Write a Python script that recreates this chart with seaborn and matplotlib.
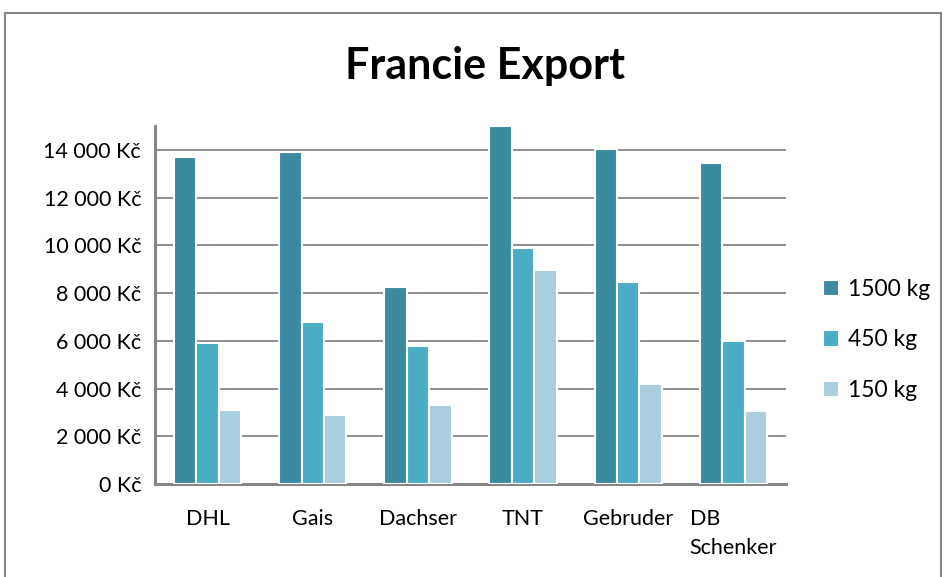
import pandas as pd
import matplotlib
matplotlib.use("Agg")
import matplotlib.pyplot as plt
import seaborn as sns
from matplotlib.patches import Rectangle

# data
carriers = ["DHL", "Gais", "Dachser", "TNT", "Gebruder", "DB\nSchenker"]
weights = ["1500 kg", "450 kg", "150 kg"]
price_1500 = [13700, 13900, 8250, 15000, 14050, 13450]
price_450 = [5900, 6800, 5800, 9900, 8450, 6000]
price_150 = [3100, 2900, 3300, 8950, 4200, 3050]
y_ticks = [0, 2000, 4000, 6000, 8000, 10000, 12000, 14000]
y_tick_labels = ["0 Kč", "2 000 Kč", "4 000 Kč", "6 000 Kč", "8 000 Kč",
                 "10 000 Kč", "12 000 Kč", "14 000 Kč"]
colors = ["#3B8BA0", "#4BACC6", "#AACEDD"]

df = pd.DataFrame({
    "carrier": carriers * 3,
    "weight": [weights[0]] * 6 + [weights[1]] * 6 + [weights[2]] * 6,
    "price": price_1500 + price_450 + price_150,
})

sns.set_style("white")
plt.rcParams["font.family"] = ["Lato", "DejaVu Sans"]
plt.rcParams["text.color"] = "black"
plt.rcParams["xtick.color"] = "black"
plt.rcParams["ytick.color"] = "black"

fig = plt.figure(figsize=(9.47, 5.77), dpi=100)
ax = fig.add_axes([155 / 947, 1 - 484 / 577, 631 / 947, 358 / 577])

sns.barplot(
    data=df, x="carrier", y="price", hue="weight",
    hue_order=weights, order=carriers, palette=colors, saturation=1,
    width=0.64, edgecolor="white", linewidth=1.5, ax=ax,
    errorbar=None, zorder=3,
)

ax.set_ylim(0, 15000)
ax.set_yticks(y_ticks)
ax.set_yticklabels(y_tick_labels)
ax.set_xlabel("")
ax.set_ylabel("")
ax.yaxis.grid(True, color="#868686", linewidth=1.3, zorder=0)
ax.set_axisbelow(True)
for side in ["top", "right"]:
    ax.spines[side].set_visible(False)
for side in ["left", "bottom"]:
    ax.spines[side].set_color("#868686")
    ax.spines[side].set_linewidth(2.2)
ax.tick_params(axis="y", length=5, color="#868686", width=1.3, labelsize=15.5, pad=5)
ax.tick_params(axis="x", length=0, labelsize=15.5, pad=18)
for lbl in ax.get_xticklabels():
    lbl.set_linespacing(1.55)
    lbl.set_va("top")
    lbl.set_multialignment("left")

ax.legend(
    loc="center left", bbox_to_anchor=(802 / 947, 1 - 340 / 577),
    bbox_transform=fig.transFigure, frameon=False, fontsize=16.5,
    handlelength=0.7, handleheight=0.7, labelspacing=1.3, handletextpad=0.4,
)

fig.text(485 / 947, 1 - 66 / 577, "Francie Export", ha="center", va="center",
         fontsize=31, fontweight="bold")

fig.patches.append(Rectangle((5 / 947, -0.1), 936 / 947, 1.1 - 13 / 577,
                             transform=fig.transFigure, fill=False,
                             edgecolor="#868686", linewidth=1.5))

fig.savefig("out.png", dpi=100)
